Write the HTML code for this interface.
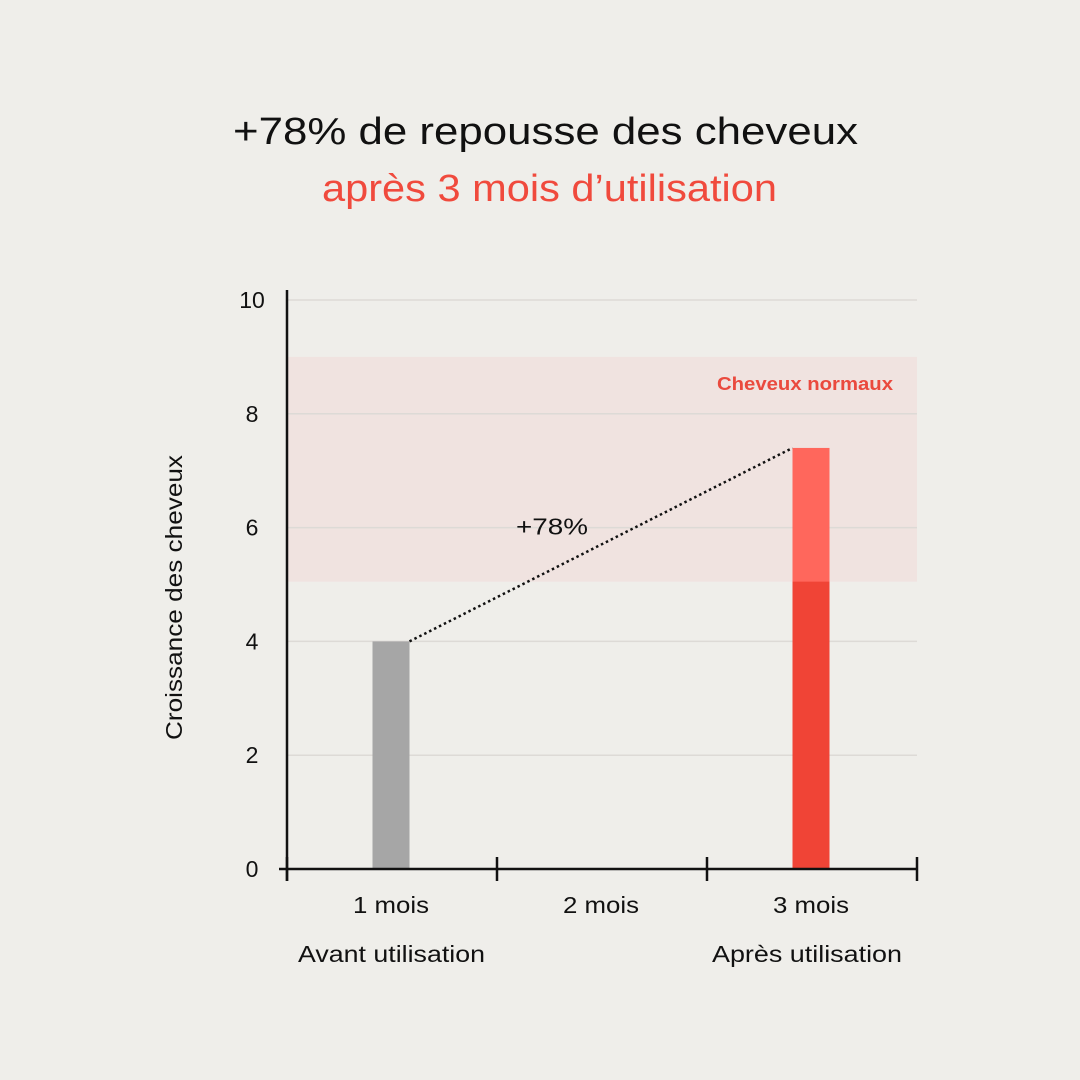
<!DOCTYPE html>
<html><head><meta charset="utf-8"><style>
body{margin:0;width:1080px;height:1080px;background:#efeeea;overflow:hidden;font-family:"Liberation Sans",sans-serif}
svg{position:absolute;left:0;top:0}
</style></head><body>
<svg width="1080" height="1080">
<text x="233" y="144" textLength="625" lengthAdjust="spacingAndGlyphs" font-size="38" fill="#111">+78% de repousse des cheveux</text>
<text x="322" y="201" textLength="455" lengthAdjust="spacingAndGlyphs" font-size="38" fill="#f04a3d">après 3 mois d’utilisation</text>
<g id="plot"></g>
</svg>
<script>
const categories=["1 mois","2 mois","3 mois"];
const subLabels=["Avant utilisation","","Après utilisation"];
const values=[4,null,7.4];
const yTicks=[0,2,4,6,8,10];
const bandRange=[5.05,9];
const bandLabel="Cheveux normaux";
const changeLabel="+78%";
const NS="http://www.w3.org/2000/svg";
const g=document.getElementById('plot');
const x0=287,x1=917,yBase=869,pxPer=56.9;
const y=v=>yBase-v*pxPer;
const bw=(x1-x0)/categories.length;
const cx=i=>x0+bw*(i+0.5);
function mk(t,a,txt){const e=document.createElementNS(NS,t);for(const k in a)e.setAttribute(k,a[k]);if(txt!=null)e.textContent=txt;g.appendChild(e);return e;}
let e;
e=mk('rect',{x:x0,y:y(bandRange[1]),width:x1-x0,height:y(bandRange[0])-y(bandRange[1]),fill:'#f0e3e0'});


yTicks.forEach(t=>{
 if(t>0){e=mk('line',{x1:x0,x2:x1,y1:y(t),y2:y(t),stroke:'#dddad6','stroke-width':1.5});
 
 }
 e=mk('text',{x:252,y:y(t)+8,'text-anchor':'middle','font-size':23,fill:'#111'},t);
 
 
});
e=mk('text',{x:717,y:y(bandRange[1])+33,textLength:176,lengthAdjust:'spacingAndGlyphs','font-size':18,'font-weight':'bold',fill:'#ea4a3e'},bandLabel);


const barW=37;
values.forEach((v,i)=>{
 if(v==null)return;
 const left=cx(i)-barW/2-1;
 if(i===0){
  e=mk('rect',{x:left,y:y(v),width:barW,height:yBase-y(v),fill:'#a6a6a6'});
  
  
 }else{
  const low=Math.min(v,bandRange[0]);
  e=mk('rect',{x:left,y:y(v),width:barW,height:yBase-y(v),fill:'#ff675c'});
  
  
  e=mk('rect',{x:left,y:y(low),width:barW,height:yBase-y(low),fill:'#f04436'});
  
  
 }
});
e=mk('line',{x1:cx(0)+barW/2-1,y1:y(values[0]),x2:cx(2)-barW/2-1,y2:y(values[2]),stroke:'#111','stroke-width':2.5,'stroke-dasharray':'2.5 3'});


e=mk('text',{x:(cx(0)+cx(2))/2-50,y:(y(values[0])+y(values[2]))/2-10,textLength:72,lengthAdjust:'spacingAndGlyphs','text-anchor':'middle','font-size':23,fill:'#111'},changeLabel);


e=mk('line',{x1:x0,x2:x0,y1:290,y2:yBase+12,stroke:'#111','stroke-width':2.5});


e=mk('line',{x1:x0-8,x2:x1,y1:yBase,y2:yBase,stroke:'#111','stroke-width':2.5});


for(let i=0;i<=categories.length;i++){
 e=mk('line',{x1:x0+bw*i,x2:x0+bw*i,y1:yBase-12,y2:yBase+12,stroke:'#111','stroke-width':2.5});
 
 
}
categories.forEach((c,i)=>{
 e=mk('text',{x:cx(i)-1,y:913,textLength:76,lengthAdjust:'spacingAndGlyphs','text-anchor':'middle','font-size':23,fill:'#111'},c);
 
 
 if(subLabels[i]){
  const tl=i===0?187:190;
  e=mk('text',{x:i===0?298:712,y:962,textLength:tl,lengthAdjust:'spacingAndGlyphs','font-size':23,fill:'#111'},subLabels[i]);
  
  
 }
});
e=mk('text',{x:0,y:0,transform:'translate(182,740) rotate(-90)',textLength:285,lengthAdjust:'spacingAndGlyphs','font-size':23,fill:'#111'},'Croissance des cheveux');


</script>
</body></html>
